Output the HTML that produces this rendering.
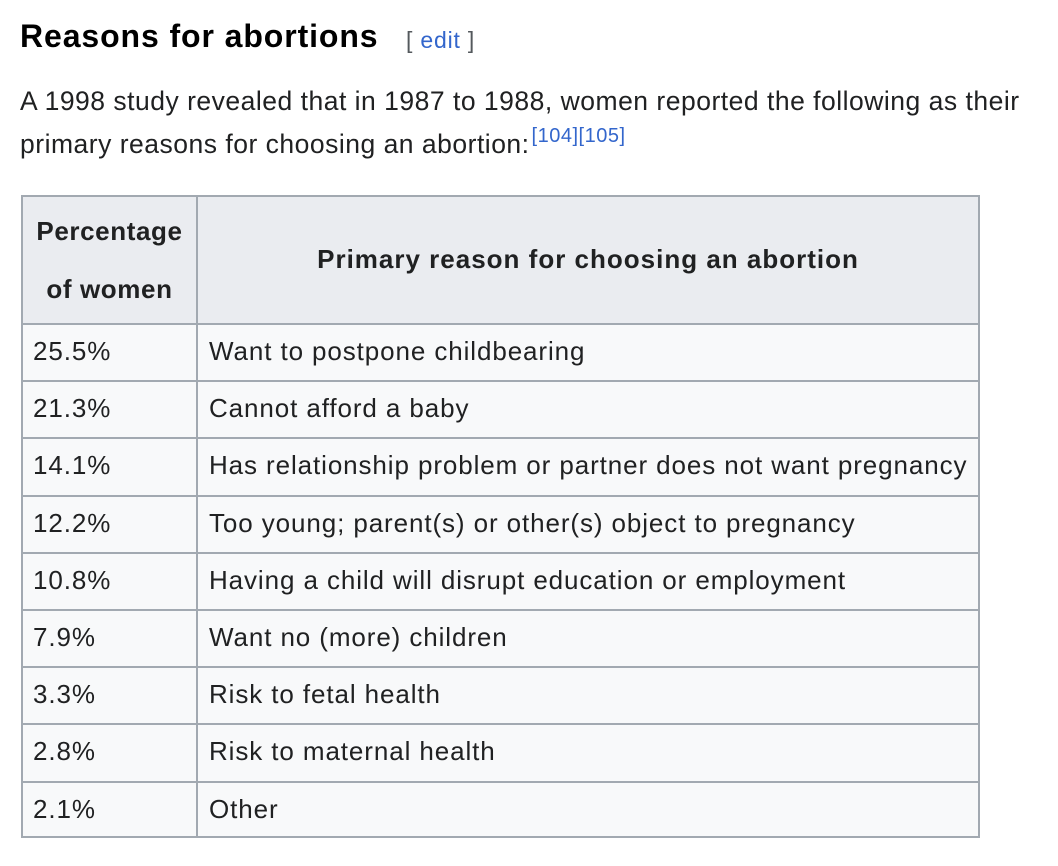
<!DOCTYPE html>
<html><head><meta charset="utf-8"><style>
body{margin:0;width:1058px;height:866px;background:#fff;font-family:"Liberation Sans",Arial,sans-serif;color:#202122;position:relative;overflow:hidden}
h2{position:absolute;left:20px;top:18px;margin:0;font-size:32px;letter-spacing:0.9px;font-weight:bold;color:#000;white-space:nowrap}
.edit{position:absolute;left:406px;top:27px;font-size:23px;letter-spacing:0.8px;color:#54595d;white-space:nowrap}
.edit a{color:#3366cc;text-decoration:none}
p{position:absolute;left:20px;top:80px;margin:0;font-size:26.5px;letter-spacing:0.5px;line-height:43px;width:1040px;white-space:nowrap}
sup{font-size:20px;letter-spacing:0.5px;color:#3366cc;vertical-align:0;position:relative;top:-11px;margin-left:2px}
.tbl{position:absolute;left:21px;top:195px;width:959px;height:643px;background:#f8f9fa;border:2px solid #a2a9b1;box-sizing:border-box}
.hd{position:absolute;left:0;top:0;width:100%;height:128px;background:#eaecf0}
.hl{position:absolute;left:0;width:100%;height:2px;background:#a2a9b1}
.vl{position:absolute;left:173px;top:0;width:2px;height:100%;background:#a2a9b1}
.th{position:absolute;font-weight:bold;font-size:26px;text-align:center;white-space:nowrap}
.td{position:absolute;font-size:26px;letter-spacing:0.9px;white-space:nowrap}
</style></head><body>
<h2>Reasons for abortions</h2>
<div class="edit">[ <a>edit</a> ]</div>
<p>A 1998 study revealed that in 1987 to 1988, women reported the following as their<br>primary reasons for choosing an abortion:<sup>[104][105]</sup></p>
<div class="tbl" id="tbl">
<div class="hd"></div>
<div class="vl"></div>
<div class="th" style="left:0;width:173px;top:5px;line-height:58px;letter-spacing:0.6px">Percentage<br>of women</div>
<div class="th" style="left:175px;width:780px;top:47px;line-height:30px;letter-spacing:1px">Primary reason for choosing an abortion</div>
</div>
<script>
const pcts=["25.5%","21.3%","14.1%","12.2%","10.8%","7.9%","3.3%","2.8%","2.1%"];
const reasons=["Want to postpone childbearing","Cannot afford a baby","Has relationship problem or partner does not want pregnancy","Too young; parent(s) or other(s) object to pregnancy","Having a child will disrupt education or employment","Want no (more) children","Risk to fetal health","Risk to maternal health","Other"];
const t=document.getElementById('tbl');
const rowH=57.2, top0=126;
pcts.forEach((p,i)=>{
 const y=top0+i*rowH;
 const l=document.createElement('div');l.className='hl';l.style.top=y+'px';
 
 
 t.appendChild(l);
 const a=document.createElement('div');a.className='td';a.textContent=p;
 a.style.left='10px';a.style.top=(y+13)+'px';
 
 
 t.appendChild(a);
 const b=document.createElement('div');b.className='td';b.textContent=reasons[i];
 b.style.left='186px';b.style.top=(y+13)+'px';
 
 
 t.appendChild(b);
});
</script>
</body></html>
